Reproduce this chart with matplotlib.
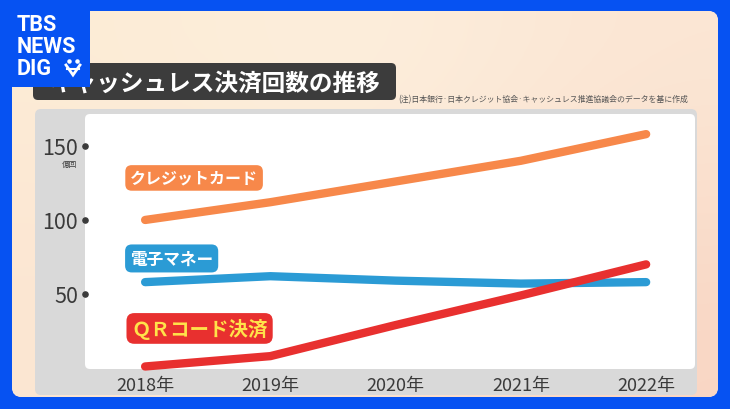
import numpy as np
import matplotlib
matplotlib.use('Agg')
import matplotlib.pyplot as plt
from matplotlib.patches import FancyBboxPatch, Rectangle
from matplotlib import transforms

plt.rcParams['font.family'] = ['Noto Sans CJK JP', 'DejaVu Sans']

# data (億回)
years = [2018, 2019, 2020, 2021, 2022]
year_labels = ['2018年', '2019年', '2020年', '2021年', '2022年']
credit = [100, 112, 126, 140, 158]
emoney = [58, 62, 59, 57, 58]
qr = [1, 8, 29, 49, 70]
y_ticks = [50, 100, 150]
y_tick_labels = ['50', '100', '150']

title = 'キャッシュレス決済回数の推移'
note = '(注)日本銀行·日本クレジット協会·キャッシュレス推進協議会のデータを基に作成'
unit = '億回'

BLUE = '#0652F2'
ORANGE = '#F7884A'
SKY = '#2B9BD5'
RED = '#E8302F'
TXT = '#3A3A3A'


def main():
    fig = plt.figure(figsize=(7.3, 4.1), dpi=100)
    fig.patch.set_facecolor(BLUE)

    # background layer in pixel coordinates
    bg = fig.add_axes([0, 0, 1, 1])
    bg.axis('off')

    peach = FancyBboxPatch((12, 12), 706, 386, boxstyle='round,pad=0,rounding_size=10',
                           facecolor='#FCEBD6', edgecolor='none', zorder=1)
    bg.add_patch(peach)
    grad = np.array([[[253, 236, 214], [253, 240, 222], [251, 230, 212]],
                     [[252, 232, 212], [252, 236, 218], [250, 222, 204]],
                     [[252, 230, 210], [251, 228, 210], [249, 214, 196]]]) / 255
    im = bg.imshow(grad, extent=(12, 718, 398, 12), interpolation='bicubic',
                   aspect='auto', zorder=1)
    im.set_clip_path(peach)

    # logo
    bg.add_patch(Rectangle((0, 0), 90, 88, facecolor=BLUE, edgecolor='none', zorder=10))
    for txt, yy in zip(['TBS', 'NEWS', 'DIG'], [25, 47, 69]):
        bg.text(17, yy, txt, color='white', fontsize=15.5, fontweight='bold',
                family='Roboto', ha='left', va='center', zorder=11)
    # small logo mark after DIG
    bg.scatter([69, 77], [62, 62], s=5, color='white', zorder=11)
    bg.plot([66, 73, 80], [66, 76, 66], color='white', lw=2, zorder=11,
            solid_joinstyle='miter')
    bg.plot([67, 79], [70, 70], color='white', lw=1.5, zorder=11)

    # title
    bg.add_patch(FancyBboxPatch((33, 64), 363, 37, boxstyle='round,pad=0,rounding_size=5',
                                facecolor='#3C3C3C', edgecolor='none', zorder=5))
    bg.text(50, 84, title, color='white', fontsize=17, fontweight='bold',
            ha='left', va='center', zorder=6)
    bg.text(398, 100, note, color='#555555', fontsize=5.7, ha='left', va='center', zorder=6)

    # chart panel
    bg.add_patch(FancyBboxPatch((35, 110), 662, 286, boxstyle='round,pad=0,rounding_size=6',
                                facecolor='#D9D9D9', edgecolor='none', zorder=2))
    bg.add_patch(FancyBboxPatch((85, 115), 610, 255, boxstyle='round,pad=0,rounding_size=5',
                                facecolor='white', edgecolor='none', zorder=3))
    bg.text(69, 165, unit, color=TXT, fontsize=5.5, ha='center', va='center', zorder=4)

    bg.set_xlim(0, 730)
    bg.set_ylim(410, 0)

    # data axes
    ax = fig.add_axes([85 / 730, 40 / 410, 610 / 730, 255 / 410])
    ax.set_facecolor('none')
    ax.set_zorder(3)
    for s in ax.spines.values():
        s.set_visible(False)

    lw = 6
    ax.plot(years, credit, color=ORANGE, lw=lw, solid_capstyle='round', solid_joinstyle='round')
    ax.plot(years, emoney, color=SKY, lw=lw, solid_capstyle='round', solid_joinstyle='round')
    ax.plot(years, qr, color=RED, lw=lw, solid_capstyle='round', solid_joinstyle='round',
            clip_on=False)

    ax.set_xlim(2017.52, 2022.39)
    ax.set_ylim(-0.7, 171.6)

    ax.set_xticks(years)
    ax.set_xticklabels(year_labels)
    ax.set_yticks(y_ticks)
    ax.set_yticklabels(y_tick_labels)
    ax.tick_params(axis='x', length=0, pad=5, labelsize=13, labelcolor=TXT)
    ax.tick_params(axis='y', length=0, pad=5, labelsize=15.5, labelcolor=TXT)

    trans = transforms.blended_transform_factory(ax.transAxes, ax.transData)
    ax.scatter([0] * len(y_ticks), y_ticks, s=14, color=TXT, transform=trans,
               clip_on=False, zorder=5)

    # series labels
    ax.text(2017.88, 128.4, 'クレジットカード', color='white', fontsize=11.5, fontweight='bold',
            ha='left', va='center',
            bbox=dict(boxstyle='round,pad=0.3,rounding_size=0.4', facecolor=ORANGE, edgecolor='none'))
    ax.text(2017.88, 74, '電子マネー', color='white', fontsize=12, fontweight='bold',
            ha='left', va='center',
            bbox=dict(boxstyle='round,pad=0.3,rounding_size=0.4', facecolor=SKY, edgecolor='none'))
    ax.text(2017.89, 26.7, 'ＱＲコード決済', color='#FFE24A', fontsize=14, fontweight='bold',
            ha='left', va='center',
            bbox=dict(boxstyle='round,pad=0.25,rounding_size=0.4', facecolor=RED, edgecolor='none'))

    fig.savefig('out.png', dpi=100, facecolor=fig.get_facecolor())


if __name__ == "__main__":
    main()
